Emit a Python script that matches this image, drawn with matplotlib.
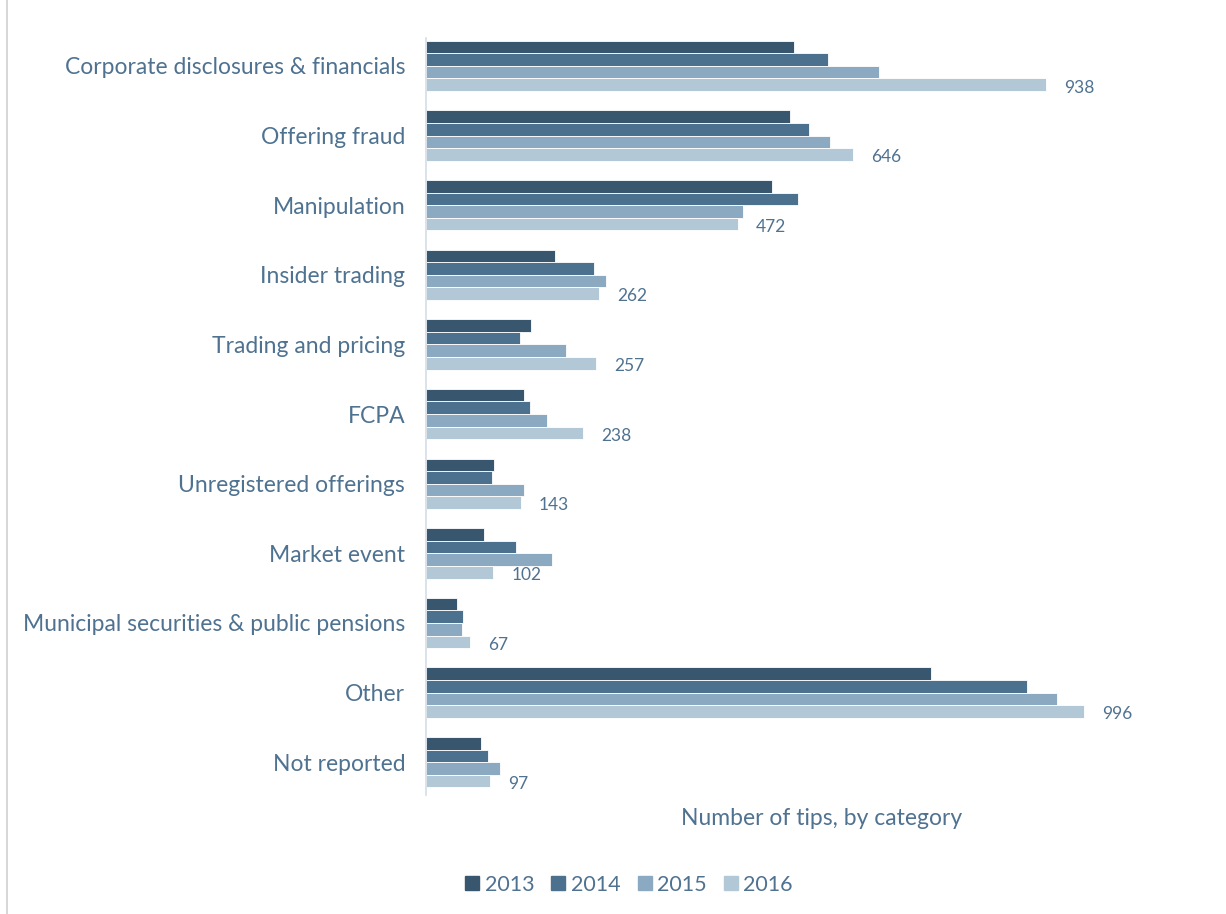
import matplotlib.pyplot as plt
import numpy as np
from matplotlib.lines import Line2D

categories = [
    "Corporate disclosures & financials",
    "Offering fraud",
    "Manipulation",
    "Insider trading",
    "Trading and pricing",
    "FCPA",
    "Unregistered offerings",
    "Market event",
    "Municipal securities & public pensions",
    "Other",
    "Not reported",
]
years = ["2013", "2014", "2015", "2016"]
tips_2013 = [557, 551, 523, 195, 159, 148, 103, 88, 47, 764, 83]
tips_2014 = [608, 579, 563, 254, 142, 157, 100, 136, 56, 909, 94]
tips_2015 = [685, 611, 480, 272, 212, 183, 148, 191, 54, 955, 112]
tips_2016 = [938, 646, 472, 262, 257, 238, 143, 102, 67, 996, 97]

series = [tips_2013, tips_2014, tips_2015, tips_2016]
colors = ["#38566e", "#4b718f", "#8baac2", "#b3c8d6"]
text_color = "#4f7291"

plt.rcParams["font.family"] = ["Lato", "DejaVu Sans"]

fig = plt.figure(figsize=(12.26, 9.14), dpi=100)
ax = fig.add_axes([0.3475, 0.1302, 0.593, 0.8282])

y = np.arange(len(categories))
bar_h = 0.181
for i, (vals, col, yr) in enumerate(zip(series, colors, years)):
    offs = (i - 1.5) * bar_h
    ax.barh(y + offs, vals, height=bar_h, color=col, edgecolor="white",
            linewidth=0.6, label=yr)

# value labels only on the latest year
for yi, v in zip(y, tips_2016):
    ax.text(v + 27, yi + 1.5 * bar_h + 0.04, f"{v}", va="center", ha="left",
            fontsize=12.5, color=text_color)

ax.set_xlim(0, 1100)
ax.set_ylim(10.47, -0.4)
ax.set_yticks(y)
ax.set_yticklabels(categories, fontsize=16.5, color=text_color)
ax.tick_params(axis="y", length=0, pad=15)
ax.set_xticks([])
for s in ["top", "right", "bottom"]:
    ax.spines[s].set_visible(False)
ax.spines["left"].set_color("#d3dde6")
ax.spines["left"].set_linewidth(1.2)

fig.text(0.6705, 0.105, "Number of tips, by category", ha="center", va="center",
         fontsize=16.5, color=text_color)

handles = [plt.Rectangle((0, 0), 1, 1, color=c) for c in colors]
fig.legend(handles, years, loc="center", bbox_to_anchor=(0.513, 0.032), ncol=4,
           frameon=False, fontsize=15.5, labelcolor=text_color, handlelength=0.65,
           handleheight=0.65, handletextpad=0.25, columnspacing=0.8)

# thin frame line on the left edge
fig.add_artist(Line2D([0.0055, 0.0055], [0, 1], transform=fig.transFigure,
                      color="#d0d0d0", linewidth=1.2))

fig.savefig("out.png", dpi=100)
